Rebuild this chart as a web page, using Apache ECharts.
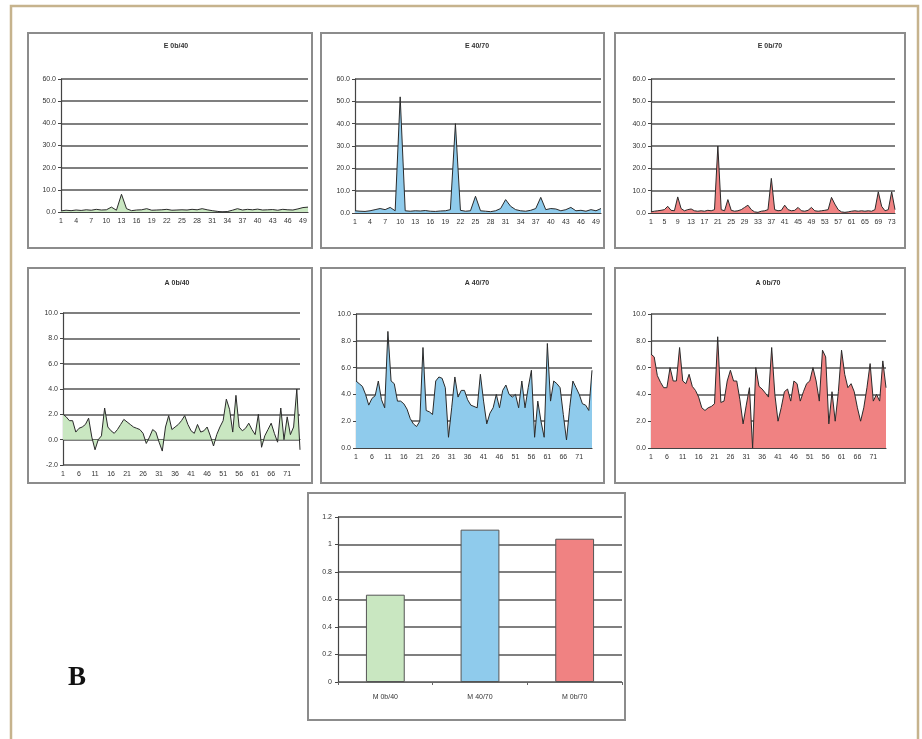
<!DOCTYPE html>
<html>
<head>
<meta charset="utf-8">
<script src="https://cdn.jsdelivr.net/npm/echarts@6/dist/echarts.min.js"></script>
<style>
  html, body { margin: 0; padding: 0; background: #ffffff; }
  #chart { width: 922px; height: 739px; }
</style>
</head>
<body>
<div id="chart"></div>
<script>
// Panel titles
const titles = ['E 0b/40', 'E 40/70', 'E 0b/70', 'A 0b/40', 'A 40/70', 'A 0b/70'];

// Top row: E profiles
const e0b40 = [0.5,0.8,0.6,0.9,0.7,1.0,0.8,1.2,0.9,1.0,2.2,0.8,8.0,1.5,0.6,0.9,1.0,1.5,0.8,0.9,1.0,1.2,0.8,0.9,1.0,0.9,1.2,1.0,1.5,1.0,0.6,0.3,0.0,0.2,0.8,1.5,0.9,1.2,1.0,1.3,0.9,1.0,1.1,0.8,1.2,1.0,0.9,1.4,2.0,2.2];
const e4070 = [1.0,0.8,0.7,1.0,1.5,2.0,1.5,2.5,1.0,52.0,1.0,0.8,1.0,0.9,1.1,0.8,0.7,0.9,1.0,1.5,40.0,1.2,0.8,1.0,7.5,1.0,0.8,0.6,1.0,2.0,6.0,3.0,1.5,1.0,0.8,1.2,2.0,7.0,1.5,2.0,1.8,1.0,1.5,2.5,1.0,1.2,0.8,1.5,1.0,2.0];
const e0b70 = [0.5,0.8,1.0,1.2,1.5,3.0,1.2,1.0,7.2,2.0,1.0,1.5,1.8,1.0,0.8,1.0,0.8,1.2,1.0,1.5,30.0,1.5,1.0,6.0,1.2,0.8,1.0,1.5,2.5,3.5,1.5,0.5,0.3,0.8,1.0,1.5,15.5,1.5,1.0,1.2,3.5,1.5,1.0,1.2,2.5,1.0,0.8,1.2,2.5,1.0,0.8,1.0,1.2,1.5,7.0,4.0,1.5,0.5,0.3,0.5,0.8,1.0,0.8,1.0,0.8,1.0,0.8,1.5,9.5,3.0,1.0,1.5,9.5,1.5];

// Middle row: A profiles
const a0b40 = [2.0,1.8,1.5,1.5,0.6,0.9,1.0,1.2,1.7,0.2,-0.8,0.0,0.3,2.5,1.0,0.7,0.5,0.8,1.2,1.6,1.4,1.2,1.0,0.9,0.8,0.5,-0.3,0.2,0.8,0.6,-0.2,-0.9,1.0,1.9,0.8,1.0,1.2,1.5,1.9,1.2,0.7,0.5,1.2,0.6,0.7,1.0,0.3,-0.5,0.4,1.0,1.5,3.2,2.4,0.6,3.5,1.0,0.7,0.9,1.3,0.8,0.4,2.0,-0.6,0.3,0.8,1.3,0.5,-0.2,2.5,0.0,1.8,0.4,1.0,4.0,-0.8];
const a4070 = [5.0,4.8,4.6,4.0,3.2,3.7,3.9,5.0,3.6,3.0,8.7,5.0,4.8,3.5,3.5,3.3,2.9,2.2,1.8,1.6,2.0,7.5,2.8,2.7,2.5,5.0,5.3,5.2,4.5,0.8,3.0,5.3,3.8,4.3,4.3,3.6,3.2,3.1,3.0,5.5,3.5,1.8,2.6,3.0,4.0,3.0,4.3,4.7,4.0,3.8,4.0,3.0,5.0,3.0,4.5,5.8,0.8,3.5,2.0,0.8,7.8,3.5,5.0,4.8,4.5,2.5,0.6,3.0,5.0,4.5,4.0,3.3,3.2,2.8,5.8];
const a0b70 = [7.0,6.8,5.4,4.9,4.5,4.5,6.0,5.0,5.0,7.5,5.0,4.8,5.5,4.6,4.3,3.8,3.0,2.8,3.0,3.1,3.3,8.3,3.4,3.5,5.0,5.8,5.0,5.0,3.6,1.8,3.2,4.5,0.0,6.0,4.6,4.4,4.1,3.8,7.5,4.0,2.0,3.0,4.2,4.4,3.5,5.0,4.8,3.5,4.2,4.8,5.0,6.0,5.0,3.5,7.3,6.8,1.8,4.2,2.0,4.2,7.3,5.5,4.5,4.8,4.2,3.0,2.0,3.0,4.5,6.3,3.5,4.0,3.5,6.5,4.5];

// Bottom panel: M summary
const mCategories = ['M 0b/40', 'M 40/70', 'M 0b/70'];
const mValues = [0.635, 1.108, 1.042];

const fills = ['#c9e7c1', '#8fcbec', '#f08282'];
const font = 'Liberation Sans';
const txt = '#333';

const chart = echarts.init(document.getElementById('chart'), null, { renderer: 'canvas' });

// plot areas (left, top, width, height) and panel frames
const plots = [
  [61, 79, 247, 133], [355, 79, 246, 134], [651, 79, 244, 134],
  [63, 313, 237, 152], [356, 314, 236, 134], [651, 314, 235, 134]
];
const frames = [
  [28, 33, 284, 215], [321, 33, 283, 215], [615, 33, 290, 215],
  [28, 268, 284, 215], [321, 268, 283, 215], [615, 268, 290, 215],
  [308, 493, 317, 227]
];
const titleCenters = [[171, 43], [472, 43], [765, 43], [172, 280], [472, 280], [763, 280]];

const seriesData = [e0b40, e4070, e0b70, a0b40, a4070, a0b70];
const labelEvery = [2, 2, 3, 4, 4, 4];
const yRanges = [[0, 60, 10], [0, 60, 10], [0, 60, 10], [-2, 10, 2], [0, 10, 2], [0, 10, 2]];
const fillIdx = [0, 1, 2, 0, 1, 2];

const grid = [], xAxis = [], yAxis = [], series = [], title = [];

seriesData.forEach((vals, i) => {
  const [l, t, w, h] = plots[i];
  grid.push({ left: l, top: t, width: w, height: h, containLabel: false });
  const cats = vals.map((_, k) => String(k + 1));
  xAxis.push({
    type: 'category', gridIndex: i, data: cats, boundaryGap: false,
    axisLine: { show: true, onZero: true, lineStyle: { color: '#444', width: 1.2 } },
    axisTick: { show: false },
    axisLabel: { interval: labelEvery[i], fontSize: 7, color: txt, fontFamily: font, margin: 6 },
    splitLine: { show: false }
  });
  const [mn, mx, iv] = yRanges[i];
  yAxis.push({
    type: 'value', gridIndex: i, min: mn, max: mx, interval: iv,
    axisLine: { show: true, lineStyle: { color: '#444', width: 1.2 } },
    axisTick: { show: true, length: 3, lineStyle: { color: '#444' } },
    axisLabel: { fontSize: 7, color: txt, fontFamily: font, margin: 5, formatter: v => v.toFixed(1) },
    splitLine: { show: true, lineStyle: { color: '#555', width: 1.6 } }
  });
  series.push({
    type: 'line', xAxisIndex: i, yAxisIndex: i, data: vals,
    symbol: 'none', smooth: false,
    lineStyle: { color: '#2a2a2a', width: 1 },
    areaStyle: { color: fills[fillIdx[i]], opacity: 1, origin: 'auto' },
    z: 3
  });
  title.push({
    text: titles[i], left: titleCenters[i][0], top: titleCenters[i][1] - 5, textAlign: 'center',
    textStyle: { fontSize: 7, fontWeight: 'bold', color: txt, fontFamily: font }
  });
});

// summary bar chart
grid.push({ left: 338, top: 517, width: 284, height: 165 });
xAxis.push({
  type: 'category', gridIndex: 6, data: mCategories,
  axisLine: { show: true, lineStyle: { color: '#666', width: 1.2 } },
  axisTick: { show: true, length: 3, lineStyle: { color: '#666' } },
  axisLabel: { fontSize: 7, color: txt, fontFamily: font, margin: 12 }
});
yAxis.push({
  type: 'value', gridIndex: 6, min: 0, max: 1.2, interval: 0.2,
  axisLine: { show: true, lineStyle: { color: '#444', width: 1.2 } },
  axisTick: { show: true, length: 3, lineStyle: { color: '#444' } },
  axisLabel: { fontSize: 7, color: txt, fontFamily: font, margin: 6, formatter: v => String(Math.round(v * 10) / 10) },
  splitLine: { show: true, lineStyle: { color: '#555', width: 1.6 } }
});
series.push({
  type: 'bar', xAxisIndex: 6, yAxisIndex: 6, barWidth: '41%',
  data: mValues.map((v, k) => ({ value: v, itemStyle: { color: fills[k] } })),
  itemStyle: { borderColor: '#555', borderWidth: 1 },
  z: 3
});

// frames, outer border and panel letter
const graphic = [{
  type: 'rect', shape: { x: 11, y: 6, width: 907, height: 760 },
  style: { fill: 'none', stroke: '#c6b38d', lineWidth: 2.5 }, z: 0
}];
frames.forEach(([x, y, w, h]) => {
  graphic.push({
    type: 'rect', shape: { x, y, width: w, height: h },
    style: { fill: 'none', stroke: '#8c8c8c', lineWidth: 2 }, z: 0
  });
});
graphic.push({
  type: 'text', left: 68, top: 665,
  style: { text: 'B', fontSize: 27, fontWeight: 'bold', fontFamily: 'Liberation Serif', fill: '#111' }
});

chart.setOption({
  animation: false,
  backgroundColor: '#ffffff',
  title, grid, xAxis, yAxis, series, graphic
});
</script>
</body>
</html>
